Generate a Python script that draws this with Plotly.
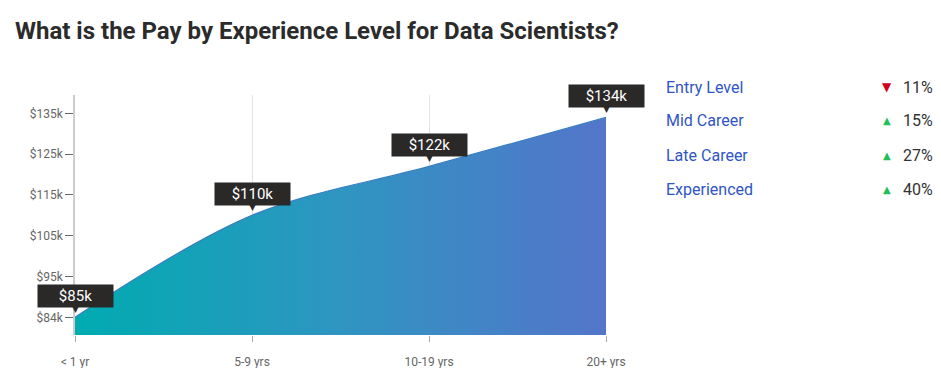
import plotly.graph_objects as go

categories = ["< 1 yr", "5-9 yrs", "10-19 yrs", "20+ yrs"]
pay_k = [85, 110, 122, 134]
ytick_vals = [85, 95, 105, 115, 125, 135]
ytick_text = ["$84k", "$95k", "$105k", "$115k", "$125k", "$135k"]

legend_labels = ["Entry Level", "Mid Career", "Late Career", "Experienced"]
legend_changes = ["11%", "15%", "27%", "40%"]
legend_up = [False, True, True, True]

FONT = "Roboto, Arial, sans-serif"
W, H = 925, 360  # page body has an 8px margin

fig = go.Figure()
fig.add_trace(go.Scatter(
    x=categories, y=pay_k, mode="lines",
    line=dict(shape="spline", smoothing=1.0, color="#3a7fc0", width=1.2),
    fill="tozeroy",
    fillgradient=dict(type="horizontal",
                      colorscale=[[0, "#00abb1"], [0.5, "#2f95c1"], [1, "#5475ca"]]),
    hoverinfo="skip", showlegend=False,
))

# value tooltips
for c, v in zip(categories, pay_k):
    fig.add_annotation(x=c, y=v, xref="x", yref="y", text=f"${v}k",
                       showarrow=False, yanchor="bottom", yshift=9,
                       bgcolor="#2b2828", width=73, height=20, borderpad=1,
                       font=dict(family=FONT, size=15, color="white"))
    fig.add_annotation(x=c, y=v, xref="x", yref="y", text="▼",
                       showarrow=False, yanchor="bottom", yshift=1,
                       font=dict(family="DejaVu Sans", size=9, color="#2b2828"))

# side legend
rows_y = [1.033, 0.892, 0.75, 0.608]
for lab, chg, up, yy in zip(legend_labels, legend_changes, legend_up, rows_y):
    fig.add_annotation(x=1.11, y=yy, xref="paper", yref="paper", text=lab,
                       showarrow=False, xanchor="left", yanchor="middle",
                       font=dict(family=FONT, size=16, color="#2f55c6"))
    fig.add_annotation(x=1.62, y=yy, xref="paper", yref="paper", text=chg,
                       showarrow=False, xanchor="right", yanchor="middle",
                       font=dict(family=FONT, size=16, color="#333333"))
    fig.add_annotation(x=1.529, y=yy, xref="paper", yref="paper",
                       text="▲" if up else "▼", showarrow=False,
                       xanchor="center", yanchor="middle",
                       font=dict(family="DejaVu Sans", size=10 if up else 12,
                                 color="#1fbf5a" if up else "#d0021b"))

fig.update_layout(
    width=W, height=H,
    margin=dict(l=67, r=327, t=87, b=33),
    paper_bgcolor="white", plot_bgcolor="white",
    title=dict(text="<b>What is the Pay by Experience Level for Data Scientists?</b>",
               x=7 / W, xanchor="left", xref="container",
               y=1 - 23 / H, yref="container", yanchor="middle",
               font=dict(family=FONT, size=24, color="#2b2b2b")),
    xaxis=dict(type="category", range=[0, 3], showgrid=True, gridcolor="#e3e3e3",
               gridwidth=1, showline=False, zeroline=False, automargin=False,
               ticks="outside", ticklen=6, tickcolor="#aaaaaa",
               ticklabelstandoff=10,
               tickfont=dict(family=FONT, size=12, color="#666666")),
    yaxis=dict(range=[80.66, 139.5], tickvals=ytick_vals, ticktext=ytick_text,
               showgrid=False, zeroline=False, showline=True, linecolor="#cccccc",
               linewidth=1.5, ticks="outside", ticklen=8, tickcolor="#666666",
               automargin=False,
               tickfont=dict(family=FONT, size=12, color="#666666")),
)

fig.write_html("out.html")
